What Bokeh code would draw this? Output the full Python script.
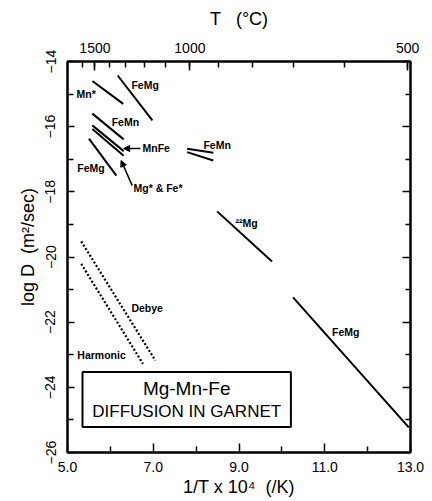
from bokeh.plotting import figure
from bokeh.models import (ColumnDataSource, Range1d, LinearAxis, FixedTicker,
                          PrintfTickFormatter, BoxAnnotation, Arrow, NormalHead)
from bokeh.core.properties import value
from bokeh.embed import file_html
from bokeh.resources import INLINE

# Arrhenius segments: 1/T x 10^4 (/K) against log D (m^2/sec)
solid_names = ["Mn*", "FeMg", "FeMn", "MnFe", "Mg* & Fe*", "FeMg",
               "FeMn", "FeMn", "22Mg", "FeMg"]
solid_x0 = [5.58, 6.17, 5.58, 5.58, 5.58, 5.50, 7.79, 7.79, 8.49, 10.26]
solid_x1 = [6.30, 6.98, 6.31, 6.31, 6.31, 6.14, 8.40, 8.40, 9.77, 12.96]
solid_y0 = [-14.60, -14.43, -15.60, -15.96, -16.07, -16.37,
            -16.68, -16.78, -18.60, -21.24]
solid_y1 = [-15.30, -15.81, -16.39, -16.75, -16.89, -17.50,
            -16.80, -17.04, -20.14, -25.23]

# Model curves
model_names = ["Debye", "Harmonic"]
model_x0 = [5.32, 5.32]
model_x1 = [7.05, 6.76]
model_y0 = [-19.52, -20.21]
model_y1 = [-23.18, -23.28]

# Axis ticks
x_major = [5.0, 7.0, 9.0, 11.0, 13.0]
x_minor = [6.0, 8.0, 10.0, 12.0]
y_major = [-14, -16, -18, -20, -22, -24, -26]
y_minor = [-15, -17, -19, -21, -23, -25]
t_major_c = [1500, 1000, 500]
t_minor_c = [1600, 1500, 1400, 1300, 1200, 1100, 1000, 900, 800, 700, 600, 500]

# Curve labels (text, x, y)
label_text = ["Mn*", "FeMg", "FeMn", "MnFe", "FeMg", "Mg* & Fe*", "FeMn",
              "²²Mg", "FeMg", "Debye", "Harmonic"]
label_x = [5.21, 6.49, 6.03, 6.75, 5.23, 6.54, 8.17, 8.92, 11.17, 6.49, 5.23]
label_y = [-15.01, -14.71, -15.87, -16.67, -17.28, -17.87, -16.55,
           -18.97, -22.31, -21.55, -23.02]

FONT = "Liberation Sans"
SP = "\u00a0"


def inv_t(celsius):
    return 1e4 / (celsius + 273.15)


p = figure(width=432, height=501, output_backend="svg", toolbar_location=None,
           x_range=Range1d(5, 13), y_range=Range1d(-26, -14),
           x_axis_location=None, y_axis_location=None,
           min_border_left=67, min_border_right=22,
           min_border_top=61, min_border_bottom=49)
p.xgrid.visible = False
p.ygrid.visible = False
p.outline_line_color = "black"
p.outline_line_width = 2
p.background_fill_color = "white"
p.border_fill_color = "white"


def style_axis(ax, major_in, minor_in):
    ax.axis_line_color = "black"
    ax.axis_line_width = 2
    ax.major_tick_line_width = 1.5
    ax.minor_tick_line_width = 1.5
    ax.major_tick_out = 0
    ax.minor_tick_out = 0
    ax.major_tick_in = major_in
    ax.minor_tick_in = minor_in
    ax.major_label_text_font = FONT
    ax.major_label_text_font_size = "14px"
    ax.major_label_text_color = "black"
    ax.axis_label_text_font = FONT
    ax.axis_label_text_font_size = "18px"
    ax.axis_label_text_font_style = "normal"
    ax.axis_label_text_color = "black"


bottom = LinearAxis(ticker=FixedTicker(ticks=x_major, minor_ticks=x_minor),
                    formatter=PrintfTickFormatter(format="%.1f"),
                    axis_label=f"1/T x 10⁴{SP}{SP}(/K)")
style_axis(bottom, 9, 6)
bottom.major_label_standoff = 9
bottom.axis_label_standoff = 2
p.add_layout(bottom, "below")

top_major = [inv_t(c) for c in t_major_c]
top = LinearAxis(ticker=FixedTicker(ticks=top_major,
                                    minor_ticks=[inv_t(c) for c in t_minor_c]),
                 axis_label=f"T{SP}{SP}{SP}(°C)",
                 major_label_overrides={v: str(c) for v, c in zip(top_major, t_major_c)})
style_axis(top, 9, 6)
top.major_label_standoff = 9
top.axis_label_standoff = 11
p.add_layout(top, "above")

left = LinearAxis(ticker=FixedTicker(ticks=y_major, minor_ticks=y_minor),
                  axis_label=f"{SP}{SP}{SP}{SP}log D{SP}{SP}(m²/sec)")
style_axis(left, 7, 6)
left.major_label_orientation = "vertical"
left.major_label_standoff = 12
left.axis_label_standoff = 5
p.add_layout(left, "left")

right = LinearAxis(ticker=FixedTicker(ticks=y_major, minor_ticks=y_minor),
                   major_label_overrides={v: "" for v in y_major})
style_axis(right, 8, 5)
p.add_layout(right, "right")

solid = ColumnDataSource(dict(name=solid_names, x0=solid_x0, x1=solid_x1,
                              y0=solid_y0, y1=solid_y1))
p.segment("x0", "y0", "x1", "y1", source=solid, line_color="black",
          line_width=2)

model = ColumnDataSource(dict(name=model_names, x0=model_x0, x1=model_x1,
                              y0=model_y0, y1=model_y1))
p.segment("x0", "y0", "x1", "y1", source=model, line_color="black",
          line_width=2.2, line_dash="2 2")

labels = ColumnDataSource(dict(text=label_text, x=label_x, y=label_y))
p.text("x", "y", text="text", source=labels, text_font=value(FONT),
       text_font_size="10.5px", text_font_style="bold", text_color="black",
       text_align="left", text_baseline="middle")

# Pointers from the labels to the crowded segments
p.add_layout(Arrow(x_start=6.70, y_start=-16.67, x_end=6.31, y_end=-16.67,
                   line_width=1.5, end=NormalHead(size=6, fill_color="black",
                                                  line_color="black")))
p.add_layout(Arrow(x_start=6.51, y_start=-17.81, x_end=6.25, y_end=-17.04,
                   line_width=1.5, end=NormalHead(size=6, fill_color="black",
                                                  line_color="black")))

# Title box
p.add_layout(BoxAnnotation(left=5.35, right=10.21, top=-23.53, bottom=-25.22,
                           fill_alpha=0, line_color="black", line_alpha=1.0,
                           line_width=2))
title_src = ColumnDataSource(dict(text=["Mg-Mn-Fe", "DIFFUSION IN GARNET"],
                                  x=[7.78, 7.78], y=[-24.04, -24.74],
                                  size=["19px", "17px"]))
p.text("x", "y", text="text", source=title_src, text_font=value(FONT),
       text_font_size="size", text_color="black", text_align="center",
       text_baseline="middle")

open("out.html", "w").write(file_html(p, INLINE))
